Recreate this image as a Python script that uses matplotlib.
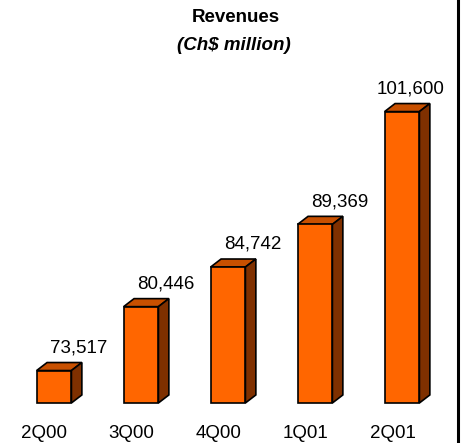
import matplotlib
matplotlib.use("Agg")
import matplotlib.pyplot as plt
from matplotlib.patches import Polygon
from matplotlib.lines import Line2D

quarters = ["2Q00", "3Q00", "4Q00", "1Q01", "2Q01"]
revenues = [73517, 80446, 84742, 89369, 101600]
base = 70000

front_c = "#ff6600"
top_c = "#c85000"
side_c = "#7f3000"

fig = plt.figure(figsize=(4.61, 4.43), dpi=100)
ax = fig.add_axes([0, 0, 1, 1])
ax.set_xlim(-0.621, 4.678)
ax.set_ylim(65660, 113700)
ax.axis("off")

w = 0.40
dx = 0.12   # depth in x units
dy = 870    # depth in y units

xs = list(range(len(quarters)))
ax.bar(xs, [v - base for v in revenues], bottom=base, width=w,
       color=front_c, edgecolor="black", linewidth=1.2, zorder=3)

for x, v in zip(xs, revenues):
    l, r = x - w / 2, x + w / 2
    top = Polygon([(l, v), (r, v), (r + dx, v + dy), (l + dx, v + dy)],
                  closed=True, facecolor=top_c, edgecolor="black",
                  linewidth=1.2, zorder=2)
    side = Polygon([(r, base), (r + dx, base + dy), (r + dx, v + dy), (r, v)],
                   closed=True, facecolor=side_c, edgecolor="black",
                   linewidth=1.2, zorder=2)
    ax.add_patch(top)
    ax.add_patch(side)
    # value label
    lx = x + 0.28 if x < len(xs) - 1 else x + 0.10
    ax.text(lx, v + dy + 1600, f"{v:,}", ha="center", va="center",
            fontsize=13.5, family="Liberation Sans")
    ax.text(x - 0.11, 66700, quarters[x], ha="center", va="center",
            fontsize=13.5, family="Liberation Sans")

fig.text(0.512, 0.960, "Revenues", ha="center", va="center",
         fontsize=13.5, fontweight="bold", family="Liberation Sans")
fig.text(0.508, 0.897, "(Ch$ million)", ha="center", va="center",
         fontsize=13.5, fontweight="bold", fontstyle="italic",
         family="Liberation Sans")

fig.add_artist(Line2D([457.5 / 461, 457.5 / 461], [0, 1], color="black",
                      linewidth=2.2, transform=fig.transFigure))

fig.savefig("out.png", dpi=100)
